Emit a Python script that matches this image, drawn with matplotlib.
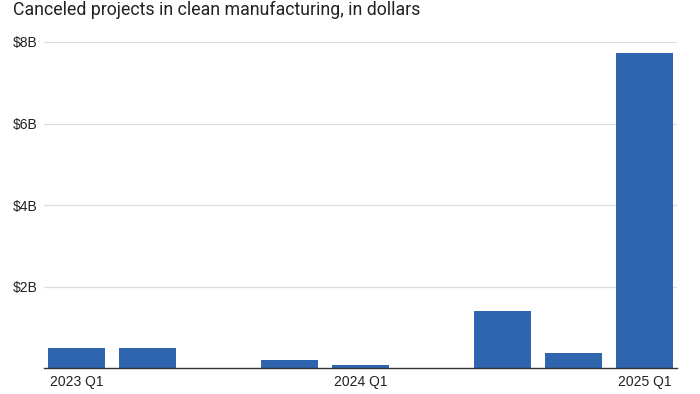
import matplotlib
matplotlib.use("Agg")
import matplotlib.pyplot as plt

# Canceled clean-manufacturing projects per quarter, billions of dollars
quarters = ["2023 Q1", "2023 Q2", "2023 Q3", "2023 Q4",
            "2024 Q1", "2024 Q2", "2024 Q3", "2024 Q4", "2025 Q1"]
canceled_b = [0.49, 0.49, 0.0, 0.20, 0.07, 0.0, 1.41, 0.37, 7.73]
shown_ticks = ["2023 Q1", "2024 Q1", "2025 Q1"]
y_ticks = [2, 4, 6, 8]
y_labels = ["$2B", "$4B", "$6B", "$8B"]

BAR_COLOR = "#2f64ae"
TEXT_COLOR = "#222222"
plt.rcParams["font.family"] = ["Liberation Sans", "DejaVu Sans"]

fig = plt.figure(figsize=(7, 3.94), dpi=100)
ax = fig.add_axes([44 / 700, 1 - 368 / 394, (677 - 44) / 700, (368 - 42) / 394])

x = list(range(len(quarters)))
ax.bar(x, canceled_b, width=0.8, color=BAR_COLOR, zorder=2)

ax.set_xlim(-0.46, 8.46)
ax.set_ylim(0, 8)
ax.set_yticks(y_ticks)
ax.set_yticklabels(y_labels)
ax.set_xticks([quarters.index(q) for q in shown_ticks])
ax.set_xticklabels(shown_ticks)

ax.grid(axis="y", color="#dddddd", linewidth=0.9, zorder=0)
for side in ("top", "right", "left"):
    ax.spines[side].set_visible(False)
ax.spines["bottom"].set_color("#333333")
ax.spines["bottom"].set_linewidth(1.0)
ax.spines["bottom"].set_zorder(3)

ax.tick_params(axis="y", length=0, pad=22.5, labelsize=10, labelcolor=TEXT_COLOR)
for lbl in ax.get_yticklabels():
    lbl.set_horizontalalignment("left")
ax.tick_params(axis="x", length=0, pad=5, labelsize=10, labelcolor=TEXT_COLOR)

fig.text(13 / 700, 1 - 15 / 394, "Canceled projects in clean manufacturing, in dollars",
         fontsize=12.8, color=TEXT_COLOR, ha="left", va="baseline",
         family=["Roboto", "DejaVu Sans"])

fig.savefig("out.png", dpi=100)
